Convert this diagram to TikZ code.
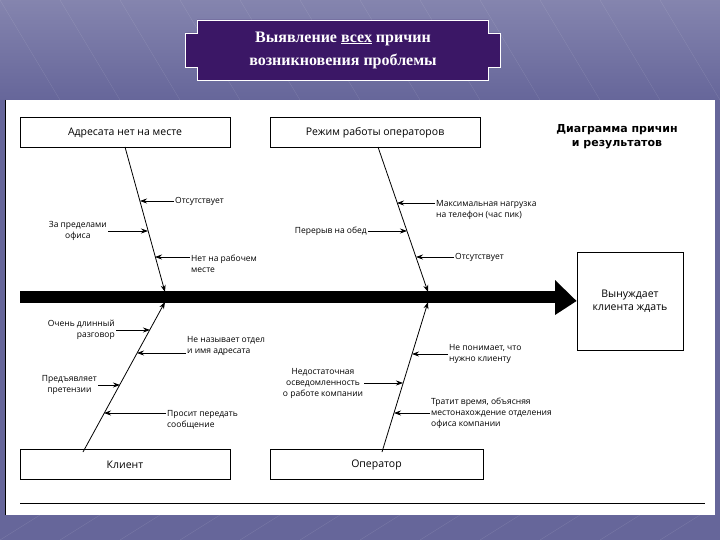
\documentclass[tikz,border=0pt]{standalone}
\usepackage{fontspec}
\setmainfont{Liberation Serif}
\setsansfont{Open Sans}
\newfontfamily\boxfont{DejaVu Sans}
\usetikzlibrary{arrows.meta}
\definecolor{bgp}{HTML}{66669A}
\definecolor{titlep}{HTML}{3B1766}
\begin{document}
\begin{tikzpicture}[x=1pt,y=-1pt,
  lbl/.style={font=\sffamily\fontsize{8.5}{11}\selectfont,inner sep=1pt},
  cbox/.style={draw,line width=0.9pt,minimum width=210pt,minimum height=30pt,font=\sffamily\fontsize{10.5}{12}\selectfont},
  bone/.style={line width=0.8pt,-{Stealth[length=7pt,width=5pt]}},
  sub/.style={line width=0.7pt,-{Stealth[length=7pt,width=5pt]}}]
\useasboundingbox (0,0) rectangle (720,540);
\fill[bgp] (0,0) rectangle (720,540);
\shade[top color=bgp!80!white, bottom color=bgp] (0,0) rectangle (720,100);
\foreach \x in {0,60,...,720}{\draw[white,opacity=0.12] (\x,0) -- (\x+60,100);\draw[white,opacity=0.12] (\x,540) -- (\x+40,515);}
\fill[white] (5,100) rectangle (715,515);
\draw[line width=0.6pt] (5,100) -- (5,515);
\draw[line width=0.8pt] (20,503) -- (705,503);
% title
\draw[white,line width=0.6pt,fill=titlep] (197,20) -- (488,20) -- (488,33) -- (500,33) -- (500,67) -- (488,67) -- (488,80) -- (197,80) -- (197,67) -- (185,67) -- (185,33) -- (197,33) -- cycle;
\node[text=white,align=center,font=\bfseries\fontsize{16}{23}\selectfont] (title) at (343,50) {Выявление \underline{всех} причин\\возникновения проблемы};
% boxes
\node[cbox] (b1) at (125,132.5) {Адресата нет на месте};
\node[cbox] (b2) at (375,132.5) {Режим работы операторов};
\node[cbox] (b3) at (125,464.5) {Клиент};
\node[cbox,minimum width=213pt] (b4) at (376.5,464.5) {Оператор};
\node[font=\boxfont\bfseries\fontsize{11}{14}\selectfont,align=center] (ttl) at (617,137) {Диаграмма причин\\и результатов};
\node[draw,line width=0.9pt,minimum width=106pt,minimum height=98pt,align=center,font=\sffamily\fontsize{10.5}{13}\selectfont] (res) at (630,301) {Вынуждает\\клиента ждать};
% spine
\coordinate (s0) at (20,297);
\fill (s0) ++(0,-6) rectangle (555,303);
\fill (555,280) -- (res.west) -- (555,315) -- cycle;
% bones
\coordinate (t1) at (125,147); \coordinate (e1) at (165,292);
\coordinate (t2) at (378,147); \coordinate (e2) at (428,292);
\coordinate (u1) at (83,452);  \coordinate (f1) at (165,302);
\coordinate (u2) at (382,452); \coordinate (f2) at (428,302);
\draw[bone] (t1) -- (e1);
\draw[bone] (t2) -- (e2);
\draw[bone] (u1) -- (f1);
\draw[bone] (u2) -- (f2);
% bone 1 top
\node[lbl,anchor=west] (a1) at (174,201) {Отсутствует};
\draw[sub] (a1.west) -- (140,201);
\node[lbl,anchor=east,align=center] (a2) at (108,231) {За пределами\\офиса};
\draw[sub] (a2.east) -- (148,231);
\node[lbl,anchor=west,align=left] (a3) at (190,264) {Нет на рабочем\\месте};
\draw[sub] (190,257) -- (155,257);
% bone 2 top
\node[lbl,anchor=west,align=left] (c1) at (435,210) {Максимальная нагрузка\\на телефон (час пик)};
\draw[sub] (435,203) -- (397,203);
\node[lbl,anchor=east] (c2) at (368,231) {Перерыв на обед};
\draw[sub] (c2.east) -- (407,231);
\node[lbl,anchor=west] (c3) at (454,257) {Отсутствует};
\draw[sub] (c3.west) -- (416,257);
% bottom bone 1
\node[lbl,anchor=east,align=right] (d1) at (116,330) {Очень длинный\\разговор};
\draw[sub] (d1.east) -- (150,330);
\node[lbl,anchor=west,align=left] (d2) at (186,346) {Не называет отдел\\и имя адресата};
\draw[sub] (186,353) -- (137,353);
\node[lbl,anchor=east,align=center] (d3) at (98,385) {Предъявляет\\претензии};
\draw[sub] (d3.east) -- (120,385);
\node[lbl,anchor=west,align=left] (d4) at (166,420) {Просит передать\\сообщение};
\draw[sub] (166,413) -- (104,413);
% bottom bone 2
\node[lbl,align=center] (g1) at (323,383) {Недостаточная\\осведомленность\\о работе компании};
\draw[sub] (g1.east) -- (403,383);
\node[lbl,anchor=west,align=left] (g2) at (448,354) {Не понимает, что\\нужно клиенту};
\draw[sub] (448,354) -- (412,354);
\node[lbl,anchor=west,align=left] (g3) at (430,413) {Тратит время, объясняя\\местонахождение отделения\\офиса компании};
\draw[sub] (430,413) -- (394,413);
\end{tikzpicture}
\end{document}
